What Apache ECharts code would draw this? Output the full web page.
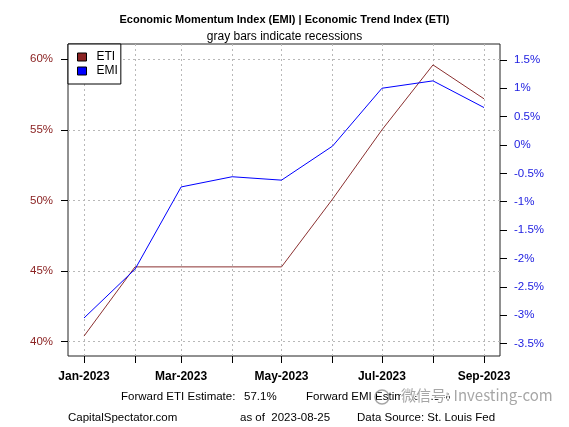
<!DOCTYPE html>
<html>
<head>
<meta charset="utf-8">
<script src="https://cdn.jsdelivr.net/npm/echarts@6/dist/echarts.min.js"></script>
<style>
html,body{margin:0;padding:0;background:#fff;}
#c{width:569px;height:427px;}
</style>
</head>
<body>
<div id="c"></div>
<script>
// ---- data ----
var months = ['2023-01-01','2023-02-01','2023-03-01','2023-04-01','2023-05-01','2023-06-01','2023-07-01','2023-08-01','2023-09-01'];
var etiValues = [40.4, 45.3, 45.3, 45.3, 45.3, 50.1, 55.0, 59.6, 57.2];   // left axis, %
var emiValues = [-3.05, -2.19, -0.74, -0.56, -0.62, -0.02, 1.0, 1.13, 0.66]; // right axis, %
var leftTicks = [40, 45, 50, 55, 60];
var rightTicks = [-3.5, -3, -2.5, -2, -1.5, -1, -0.5, 0, 0.5, 1, 1.5];
var labelMonths = ['2023-01-01','2023-03-01','2023-05-01','2023-07-01','2023-09-01'];
var titleText = 'Economic Momentum Index (EMI) | Economic Trend Index (ETI)';
var subtitleText = 'gray bars indicate recessions';
var forwardEti = '57.1%';
var forwardEmi = '0.3%';
var asOfDate = '2023-08-25';

function ts(s){ var p = s.split('-'); return Date.UTC(+p[0], +p[1]-1, +p[2]); }
var monthNames = ['Jan','Feb','Mar','Apr','May','Jun','Jul','Aug','Sep','Oct','Nov','Dec'];
var xs = months.map(ts);
var pad = (xs[xs.length-1] - xs[0]) * 0.04;

var chart = echarts.init(document.getElementById('c'), null, {renderer:'canvas'});
var FONT = 'Liberation Sans, Arial, sans-serif';
var grid = {left:68, top:44, width:432, height:312};
var gridLine = {color:'#b8b8b8', type:[2,3], width:1};

var markLines = xs.map(function(x){ return {xAxis:x}; })
  .concat(leftTicks.map(function(v){ return {yAxis:v}; }));

chart.setOption({
  animation:false,
  backgroundColor:'#fff',
  textStyle:{fontFamily:FONT},
  title:[
    {text:titleText, left:'center', top:9, textStyle:{fontSize:11, fontWeight:'bold', color:'#000', fontFamily:FONT}},
    {text:subtitleText, left:'center', top:26, textStyle:{fontSize:12, fontWeight:'normal', color:'#000', fontFamily:FONT}}
  ],
  legend:{
    left:68, top:44, orient:'vertical',
    borderColor:'#000', borderWidth:1, borderRadius:0,
    padding:[7,3,7,9], itemWidth:9, itemHeight:8, itemGap:2,
    icon:'rect',
    backgroundColor:'#fff',
    textStyle:{fontSize:12, color:'#000', fontFamily:FONT, padding:[0,0,0,5]},
    data:[
      {name:'ETI', itemStyle:{color:'#8B2323', borderColor:'#000', borderWidth:1}},
      {name:'EMI', itemStyle:{color:'#0000FF', borderColor:'#000', borderWidth:1}}
    ]
  },
  grid:Object.assign({show:true, borderColor:'#222', borderWidth:1, backgroundColor:'transparent', containLabel:false}, grid),
  xAxis:{
    type:'value',
    min:xs[0]-pad, max:xs[xs.length-1]+pad,
    axisLine:{show:false, onZero:false},
    axisTick:{show:true, length:7, inside:false, lineStyle:{color:'#000', width:1}, customValues:xs},
    axisLabel:{
      customValues:labelMonths.map(ts), margin:15,
      fontSize:12, fontWeight:'bold', color:'#000', fontFamily:FONT,
      formatter:function(v){ var d = new Date(v); return monthNames[d.getUTCMonth()] + '-' + d.getUTCFullYear(); }
    },
    splitLine:{show:false}
  },
  yAxis:[
    {
      type:'value', position:'left', min:38.99, max:61.08,
      axisLine:{show:false, onZero:false},
      axisTick:{show:true, length:7, lineStyle:{color:'#000'}, customValues:leftTicks},
      axisLabel:{customValues:leftTicks, margin:15, fontSize:11.5, color:'#8B2323', fontFamily:FONT,
        formatter:function(v){ return v + '%'; }},
      splitLine:{show:false}
    },
    {
      type:'value', position:'right', min:-3.72, max:1.78,
      axisLine:{show:false, onZero:false},
      axisTick:{show:true, length:7, lineStyle:{color:'#000'}, customValues:rightTicks},
      axisLabel:{customValues:rightTicks, margin:14, fontSize:11.5, color:'#1a1ae0', fontFamily:FONT,
        formatter:function(v){ return v + '%'; }},
      splitLine:{show:false}
    }
  ],
  series:[
    {name:'ETI', type:'line', yAxisIndex:0, showSymbol:false, symbol:'none', z:3,
     lineStyle:{color:'#8B3030', width:1}, itemStyle:{color:'#8B2323'},
     markLine:{silent:true, symbol:['none','none'], label:{show:false}, z:1,
       lineStyle:gridLine, emphasis:{disabled:true}, data:markLines},
     data:xs.map(function(x,i){ return [x, etiValues[i]]; })},
    {name:'EMI', type:'line', yAxisIndex:1, showSymbol:false, symbol:'none', z:3,
     lineStyle:{color:'#0000FF', width:1}, itemStyle:{color:'#0000FF'},
     data:xs.map(function(x,i){ return [x, emiValues[i]]; })}
  ],
  graphic:[
    {type:'text', left:121, top:391, style:{text:'Forward ETI Estimate:', fontSize:11.5, fill:'#000', fontFamily:FONT}},
    {type:'text', left:244, top:391, style:{text:forwardEti, fontSize:11.5, fill:'#000', fontFamily:FONT}},
    {type:'text', left:306, top:391, style:{text:'Forward EMI Estimate:', fontSize:11.5, fill:'#000', fontFamily:FONT}},
    {type:'text', left:424, top:391, style:{text:forwardEmi, fontSize:11.5, fill:'#000', fontFamily:FONT}},
    {type:'text', left:68, top:412, style:{text:'CapitalSpectator.com', fontSize:11.5, fill:'#000', fontFamily:FONT}},
    {type:'text', left:240, top:412, style:{text:'as of  ' + asOfDate, fontSize:11.5, fill:'#000', fontFamily:FONT}},
    {type:'text', left:357, top:412, style:{text:'Data Source: St. Louis Fed', fontSize:11.5, fill:'#000', fontFamily:FONT}},
    {type:'text', left:400, top:387, style:{text:'微信号: Investing-com', fontSize:15, fill:'rgba(150,150,150,0.85)', stroke:'#fff', lineWidth:2, fontFamily:'Noto Sans CJK SC, Liberation Sans, sans-serif'}},
    {type:'circle', shape:{cx:382, cy:397, r:7}, style:{fill:'none', stroke:'rgba(150,150,150,0.85)', lineWidth:1.5}}
  ]
});
</script>
</body>
</html>
